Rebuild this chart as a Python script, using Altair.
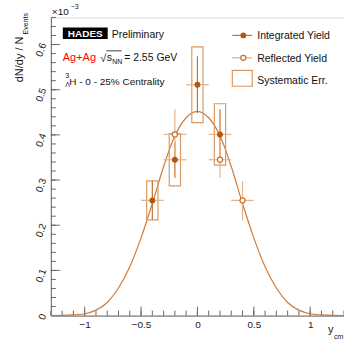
import altair as alt
import pandas as pd

FONT = "Liberation Sans"

# ---- data (units of 1e-3) ----
int_x = [-0.4, -0.2, 0.0, 0.2]
int_y = [0.255, 0.345, 0.511, 0.401]
int_stat = [0.043, 0.040, 0.063, 0.056]
int_sys = [0.043, 0.058, 0.084, 0.068]

ref_x = [-0.2, 0.2, 0.4]
ref_y = [0.401, 0.345, 0.255]
ref_stat = [0.056, 0.040, 0.043]

fit_x = [-1.3, -1.2, -1.1, -1.0, -0.9, -0.8, -0.7, -0.6, -0.5, -0.4, -0.3, -0.2, -0.1, 0.0,
         0.1, 0.2, 0.3, 0.4, 0.5, 0.6, 0.7, 0.8, 0.9, 1.0, 1.1, 1.2, 1.3]
fit_y = [0.0002, 0.0005, 0.0015, 0.004, 0.012, 0.029, 0.061, 0.108, 0.172, 0.248, 0.330, 0.398, 0.438, 0.452,
         0.438, 0.398, 0.330, 0.248, 0.172, 0.108, 0.061, 0.029, 0.012, 0.004, 0.0015, 0.0005, 0.0002]

x_major = [-1.0, -0.5, 0.0, 0.5, 1.0]
x_minor = [i / 10 for i in range(-13, 14)]
y_major = [0.0, 0.1, 0.2, 0.3, 0.4, 0.5, 0.6]
y_minor = [i / 50 for i in range(0, 34)]

W, H = 294, 299
L, T = 51, 17

C_MARK = "#b4560c"
C_VERT = "#c8702a"
C_HOR = "#e6b48a"
C_BOX = "#d99a64"
C_FIT = "#cf7b38"

xs = alt.Scale(domain=[-1.3, 1.3], nice=False, zero=False)
ys = alt.Scale(domain=[0, 0.66], nice=False, zero=False)

XAX = alt.Axis(values=x_major, tickSize=0, labelFontSize=10, labelFont=FONT,
               labelColor="#222", labelPadding=4, format="~g", grid=False,
               domainColor="#666", labelFlush=False, title=None)
YAX = alt.Axis(values=y_major, tickSize=0, labelFontSize=10, labelFont=FONT,
               labelColor="#222", labelPadding=3, labelAngle=290, format="~g",
               grid=False, domainColor="#666", labelFlush=False, title=None)

df_int = pd.DataFrame({"x": int_x, "y": int_y, "stat": int_stat, "sys": int_sys})
df_int["xl"] = df_int.x - 0.1
df_int["xh"] = df_int.x + 0.1
df_int["bl"] = df_int.x - 0.05
df_int["bh"] = df_int.x + 0.05
df_int["yl"] = df_int.y - df_int.stat
df_int["yh"] = df_int.y + df_int.stat
df_int["sl"] = df_int.y - df_int.sys
df_int["sh"] = df_int.y + df_int.sys

df_ref = pd.DataFrame({"x": ref_x, "y": ref_y, "stat": ref_stat})
df_ref["xl"] = df_ref.x - 0.1
df_ref["xh"] = df_ref.x + 0.1
df_ref["yl"] = df_ref.y - df_ref.stat
df_ref["yh"] = df_ref.y + df_ref.stat

df_fit = pd.DataFrame({"x": fit_x, "y": fit_y})

X0 = lambda f: alt.X(f, type="quantitative", scale=xs, axis=XAX)
Y0 = lambda f: alt.Y(f, type="quantitative", scale=ys, axis=YAX)

xt_major = alt.Chart(pd.DataFrame({"t": x_major})).mark_rule(color="#666", strokeWidth=1).encode(
    x=X0("t"), y=alt.value(H), y2=alt.value(H - 9))
xt_minor = alt.Chart(pd.DataFrame({"t": x_minor})).mark_rule(color="#666", strokeWidth=1).encode(
    x=X0("t"), y=alt.value(H), y2=alt.value(H - 5))
yt_major = alt.Chart(pd.DataFrame({"t": y_major})).mark_rule(color="#666", strokeWidth=1).encode(
    y=Y0("t"), x=alt.value(0), x2=alt.value(9))
yt_minor = alt.Chart(pd.DataFrame({"t": y_minor})).mark_rule(color="#666", strokeWidth=1).encode(
    y=Y0("t"), x=alt.value(0), x2=alt.value(5))

fit = alt.Chart(df_fit).mark_line(color=C_FIT, strokeWidth=1.2, interpolate="monotone").encode(
    x=X0("x"), y=Y0("y"))

boxes = alt.Chart(df_int).mark_rect(fill=None, stroke=C_BOX, strokeWidth=1.2).encode(
    x=X0("bl"), x2="bh", y=Y0("sl"), y2="sh")

hor_i = alt.Chart(df_int).mark_rule(color=C_HOR, strokeWidth=1.3).encode(
    x=X0("xl"), x2="xh", y=Y0("y"))
ver_i = alt.Chart(df_int).mark_rule(color=C_VERT, strokeWidth=1.2).encode(
    x=X0("x"), y=Y0("yl"), y2="yh")
hor_r = alt.Chart(df_ref).mark_rule(color=C_HOR, strokeWidth=1.3).encode(
    x=X0("xl"), x2="xh", y=Y0("y"))
ver_r = alt.Chart(df_ref).mark_rule(color=C_HOR, strokeWidth=1.2).encode(
    x=X0("x"), y=Y0("yl"), y2="yh")

pts_i = alt.Chart(df_int).mark_point(filled=True, shape="circle", size=34, color=C_MARK, opacity=1).encode(
    x=X0("x"), y=Y0("y"))
pts_r = alt.Chart(df_ref).mark_point(filled=True, shape="circle", size=26, fill="white",
                                     stroke=C_VERT, strokeWidth=1.2, opacity=1).encode(
    x=X0("x"), y=Y0("y"))


def label(s, xa, ya, size=10.5, color="#111", angle=0, weight="normal", align="left", baseline="alphabetic"):
    return alt.Chart(pd.DataFrame({"label": [s]})).mark_text(
        align=align, baseline=baseline, fontSize=size, color=color, angle=angle,
        fontWeight=weight, font=FONT).encode(
        x=alt.value(xa - L), y=alt.value(ya - T), text="label:N")


def hline(x1, x2, ya, color, width=1.2):
    return alt.Chart(pd.DataFrame({"k": [0]})).mark_rule(color=color, strokeWidth=width).encode(
        x=alt.value(x1 - L), x2=alt.value(x2 - L), y=alt.value(ya - T))


def rect(x1, x2, y1, y2, fill=None, stroke=None, sw=1.2):
    kw = {"fill": fill}
    if stroke is not None:
        kw["stroke"] = stroke
        kw["strokeWidth"] = sw
    return alt.Chart(pd.DataFrame({"k": [0]})).mark_rect(**kw).encode(
        x=alt.value(x1 - L), x2=alt.value(x2 - L), y=alt.value(y1 - T), y2=alt.value(y2 - T))


def dot(xa, ya, filled=True):
    if filled:
        m = alt.Chart(pd.DataFrame({"k": [0]})).mark_point(filled=True, shape="circle", size=34,
                                                            color=C_MARK, opacity=1)
    else:
        m = alt.Chart(pd.DataFrame({"k": [0]})).mark_point(filled=True, shape="circle", size=26,
                                                            fill="white", stroke=C_VERT,
                                                            strokeWidth=1.2, opacity=1)
    return m.encode(x=alt.value(xa - L), y=alt.value(ya - T))


annot = [
    # x10^-3
    label("×10", 52, 15, size=10),
    label("−3", 71, 9, size=7),
    # y title
    label("dN/dy / N", 23, 82, size=11, angle=270),
    label("Events", 28.5, 34, size=7, angle=270),
    # x title
    label("y", 329, 333, size=11),
    label("cm", 335, 339, size=7),
    # HADES logo
    rect(63, 108, 27, 38.5, fill="#000"),
    label("HADES", 85.5, 36.5, size=10, color="white", weight="bold", align="center"),
    label("Preliminary", 112, 38, size=10.5),
    label("Ag+Ag", 63, 61, size=11, color="#ff0000"),
    label("√", 100.5, 61.5, size=11),
    hline(106.5, 122, 50.5, "#111", 0.8),
    label("s", 107, 61, size=10.5),
    label("NN", 112.5, 64, size=7),
    label("= 2.55 GeV", 124.5, 61, size=10.5),
    label("3", 65.5, 77.5, size=7),
    label("Λ", 65.5, 87, size=7),
    label("H - 0 - 25% Centrality", 69.5, 85, size=10),
    # legend
    hline(233, 253, 35, C_VERT),
    dot(244, 35, True),
    label("Integrated Yield", 258, 39, size=10.5),
    hline(233, 253, 57.5, C_HOR, 1.3),
    dot(244, 57.5, False),
    label("Reflected Yield", 258, 61.5, size=10.5),
    rect(233, 253, 70, 86, stroke=C_BOX),
    label("Systematic Err.", 258, 84, size=10.5),
]

chart = alt.layer(
    xt_minor, xt_major, yt_minor, yt_major,
    fit, boxes, hor_i, hor_r, ver_i, ver_r, pts_i, pts_r,
    *annot
).properties(
    width=W, height=H,
    autosize=alt.AutoSizeParams(type="none"),
    padding={"left": L, "top": T, "right": 0, "bottom": 342 - T - H},
).configure_view(stroke="#666", strokeWidth=1).configure(background="white")

chart.save("out.html", embed_options={"renderer": "svg", "actions": False})
